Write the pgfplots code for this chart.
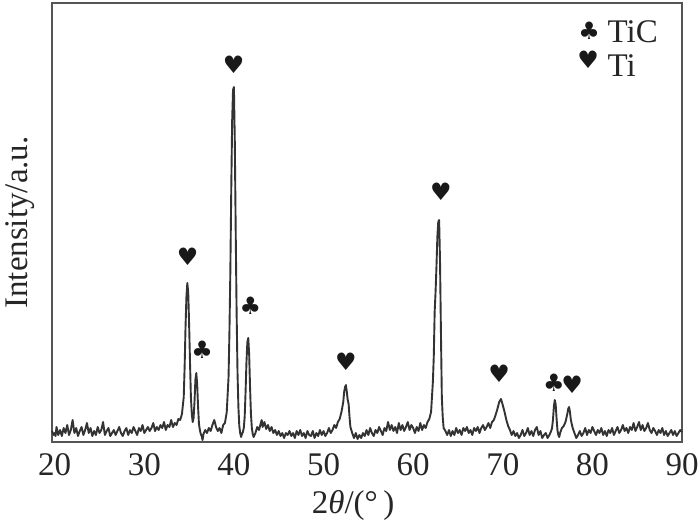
\documentclass[border=0pt]{standalone}
\usepackage{fontspec}
\setmainfont{Liberation Serif}
\newfontfamily\symfont{DejaVu Sans}
\usepackage{pgfplots}
\pgfplotsset{compat=1.18}
\usepackage{pgfplotstable}
\definecolor{framec}{HTML}{555555}
\definecolor{linec}{HTML}{333333}
\pgfplotstableread{
x y
19.7 11
19.9 7
20.0 9
20.1 6
20.2 15
20.4 7
20.6 12
20.8 6
21.0 14
21.2 9
21.4 17
21.6 7
21.8 12
22.0 22
22.2 9
22.4 14
22.6 6
22.8 11
23.0 15
23.2 7
23.4 12
23.6 19
23.8 9
24.0 14
24.2 6
24.4 11
24.6 7
24.8 15
25.0 9
25.2 12
25.4 20
25.6 7
25.8 11
26.0 14
26.2 6
26.4 9
26.6 12
26.8 7
27.0 11
27.2 15
27.4 9
27.6 6
27.8 11
28.0 14
28.2 7
28.4 12
28.6 9
28.8 15
29.0 11
29.2 7
29.4 14
29.6 11
29.8 17
30.0 9
30.2 12
30.4 15
30.6 11
30.8 14
31.0 19
31.2 11
31.4 15
31.6 12
31.8 17
32.0 14
32.2 20
32.4 12
32.6 17
32.8 15
33.0 22
33.2 15
33.4 19
33.6 17
33.8 23
34.0 22
34.2 28
34.4 45
34.5 75
34.6 115
34.7 145
34.8 159
34.9 150
35.0 118
35.1 80
35.2 45
35.3 28
35.4 20
35.5 24
35.6 40
35.7 62
35.8 69
35.9 58
36.0 35
36.1 18
36.2 12
36.3 8
36.4 6
36.5 2
36.6 8
36.8 12
37.0 9
37.2 14
37.4 11
37.6 17
37.8 22
37.9 19
38.0 15
38.2 11
38.4 14
38.6 9
38.8 17
39.0 19
39.2 30
39.4 65
39.5 110
39.6 170
39.7 250
39.8 320
39.9 352
40.0 355
40.1 300
40.2 210
40.3 130
40.4 70
40.5 35
40.6 16
40.7 9
40.8 5
40.9 8
41.0 10
41.1 14
41.2 25
41.3 50
41.4 80
41.5 100
41.6 104
41.7 88
41.8 55
41.9 28
42.0 14
42.1 8
42.2 5
42.4 9
42.6 15
42.8 12
43.0 19
43.1 22
43.2 15
43.4 20
43.6 13
43.8 17
44.0 11
44.2 15
44.4 9
44.6 12
44.8 7
45.0 11
45.2 6
45.4 9
45.6 4
45.8 9
46.0 7
46.2 11
46.4 6
46.6 9
46.8 4
47.0 11
47.2 7
47.4 12
47.6 6
47.8 9
48.0 4
48.2 11
48.4 7
48.6 6
48.8 11
49.0 4
49.2 9
49.4 6
49.6 12
49.8 7
50.0 11
50.2 6
50.4 9
50.6 14
50.8 9
51.0 12
51.2 17
51.4 14
51.6 20
51.8 23
52.0 30
52.2 40
52.3 50
52.4 55
52.5 57
52.6 50
52.7 42
52.8 38
52.9 25
53.0 15
53.2 9
53.4 4
53.6 9
53.8 3
54.0 7
54.2 4
54.4 9
54.6 6
54.8 12
55.0 7
55.2 14
55.4 9
55.6 6
55.8 12
56.0 9
56.2 15
56.4 11
56.6 7
56.8 14
57.0 11
57.2 20
57.4 12
57.6 17
57.8 11
58.0 15
58.2 9
58.4 19
58.6 12
58.8 17
59.0 11
59.2 15
59.4 20
59.6 12
59.8 17
60.0 14
60.2 9
60.4 15
60.6 11
60.8 19
61.0 12
61.2 17
61.4 14
61.6 20
61.8 23
62.0 30
62.1 45
62.2 60
62.3 85
62.4 130
62.5 150
62.6 175
62.7 205
62.8 220
62.9 222
63.0 180
63.1 110
63.2 45
63.3 25
63.4 14
63.6 11
63.8 7
64.0 12
64.2 6
64.4 11
64.6 7
64.8 14
65.0 9
65.2 12
65.4 7
65.6 14
65.8 11
66.0 15
66.2 9
66.4 12
66.6 7
66.8 14
67.0 11
67.2 15
67.4 9
67.6 14
67.8 17
68.0 12
68.2 15
68.4 19
68.6 14
68.8 20
69.0 22
69.2 27
69.4 33
69.6 40
69.8 43
70.0 37
70.2 30
70.4 22
70.6 16
70.8 12
71.0 7
71.2 11
71.4 6
71.6 9
71.8 4
72.0 7
72.2 12
72.4 6
72.6 9
72.8 14
73.0 7
73.2 11
73.4 6
73.6 12
73.8 15
74.0 7
74.2 11
74.4 4
74.6 7
74.8 9
75.0 4
75.2 7
75.4 11
75.5 14
75.6 22
75.7 35
75.8 42
75.9 38
76.0 24
76.1 12
76.2 7
76.3 5
76.4 9
76.6 14
76.8 16
77.0 20
77.2 28
77.3 33
77.4 35
77.5 30
77.6 22
77.8 14
78.0 9
78.2 4
78.4 7
78.6 11
78.8 6
79.0 9
79.2 14
79.4 7
79.6 12
79.8 9
80.0 15
80.2 11
80.4 7
80.6 12
80.8 9
81.0 14
81.2 7
81.4 11
81.6 6
81.8 12
82.0 9
82.2 14
82.4 7
82.6 11
82.8 15
83.0 9
83.2 12
83.4 17
83.6 11
83.8 14
84.0 9
84.2 15
84.4 12
84.6 19
84.8 11
85.0 15
85.2 20
85.4 12
85.6 17
85.8 11
86.0 14
86.2 19
86.4 12
86.6 9
86.8 14
87.0 11
87.2 7
87.4 12
87.6 9
87.8 14
88.0 7
88.2 11
88.4 6
88.6 9
88.8 12
89.0 7
89.2 11
89.4 6
89.6 9
89.8 12
90.0 10
}\xrd
\begin{document}
\begin{tikzpicture}
\begin{axis}[
  name=ax,
  scale only axis,
  width=315pt, height=219.5pt,
  xmin=19.7, xmax=90,
  ymin=0, ymax=439,
  xtick={20,30,40,50,60,70,80,90},
  ytick=\empty,
  major tick length=0pt,
  axis line style={framec, line width=1pt},
  /pgf/number format/assume math mode=true,
  tick label style={font=\fontsize{16.5}{19}\selectfont, text=black!85},
  xticklabel style={anchor=center, yshift=-11.5pt},
  xlabel={2\textit{θ}/(°\,)},
  ylabel={Intensity/a.u.},
  label style={font=\fontsize{16.5}{19}\selectfont, text=black!85},
  xlabel style={at={(axis description cs:0.478,0)}, anchor=center, yshift=-31.5pt},
  ylabel style={at={(axis description cs:-0.0508,0.5)}, anchor=center},
  clip=false,
]
\addplot[linec, line width=0.95pt, line join=round] table[x=x,y=y] {\xrd};
\begin{scope}[every node/.style={font=\symfont\fontsize{12}{12}\selectfont, inner sep=0pt, text=black!90}]
\node at (axis cs:34.83,185) {♥};
\node at (axis cs:36.45,92) {♣};
\node at (axis cs:39.96,377) {♥};
\node at (axis cs:41.85,136) {♣};
\node at (axis cs:52.5,80) {♥};
\node at (axis cs:63.1,250) {♥};
\node at (axis cs:69.6,68) {♥};
\node at (axis cs:75.7,59) {♣};
\node at (axis cs:77.75,57) {♥};
\node at (axis cs:79.64,411) {♣};
\node at (axis cs:79.53,382) {♥};
\end{scope}
\node[anchor=west, inner sep=0pt, font=\fontsize{16.5}{19}\selectfont, text=black!85] at (axis cs:81.65,410) {TiC};
\node[anchor=west, inner sep=0pt, font=\fontsize{16.5}{19}\selectfont, text=black!85] at (axis cs:81.65,376) {Ti};
\end{axis}
\pgfresetboundingbox
\path[use as bounding box] ([shift={(-26pt,-42.5pt)}]ax.south west) rectangle ([shift={(9pt,1.5pt)}]ax.north east);
\end{tikzpicture}
\end{document}
